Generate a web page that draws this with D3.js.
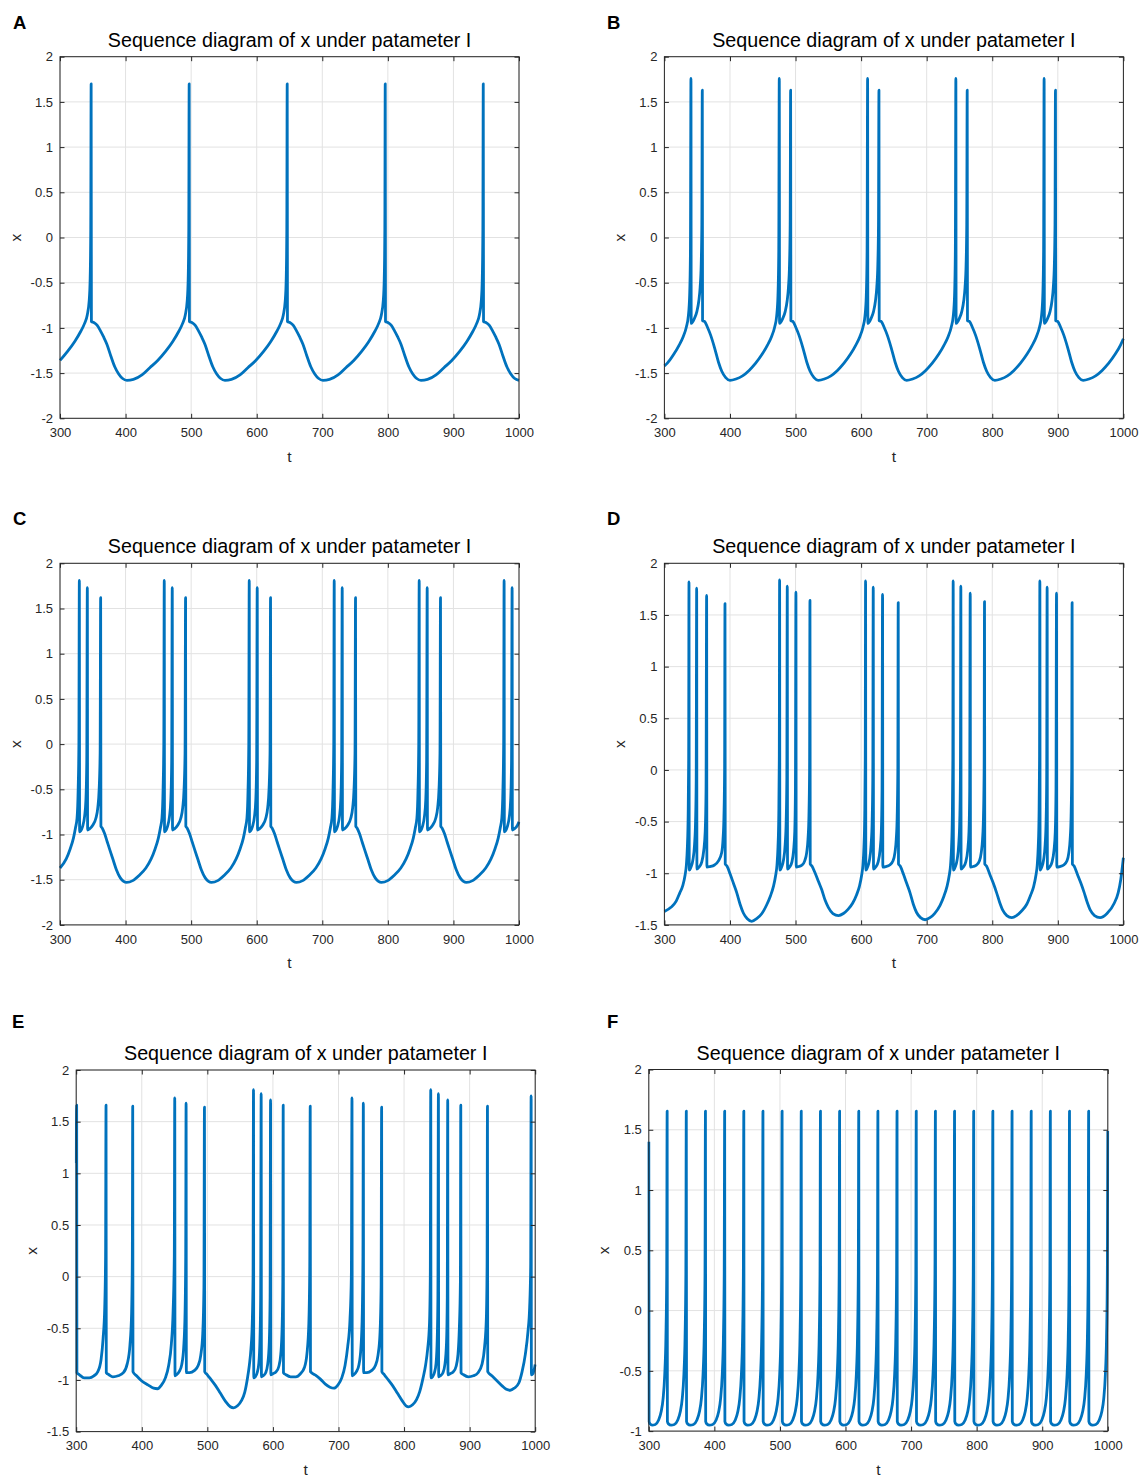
<!DOCTYPE html>
<html><head><meta charset="utf-8">
<script src="https://cdn.jsdelivr.net/npm/d3@7"></script>
<style>
body{margin:0;background:#fff}
text{font-family:"Liberation Sans",Arial,Helvetica,sans-serif}
</style>
</head><body>
<svg id="chart" width="1145" height="1477"></svg>
<script>
// ---------- DATA ----------
const titleText = "Sequence diagram of x under patameter I";
const panelLabels = ["A", "B", "C", "D", "E", "F"];
const xTickValues = [300, 400, 500, 600, 700, 800, 900, 1000];
const yTicksFull = [-2, -1.5, -1, -0.5, 0, 0.5, 1, 1.5, 2];
const yTicksD = [-1.5, -1, -0.5, 0, 0.5, 1, 1.5, 2];
const yTicksF = [-1, -0.5, 0, 0.5, 1, 1.5, 2];
const xAxisName = "t";
const yAxisName = "x";

// series: [t, x]
const seriesA = [
[300,-1.36],[311.5,-1.26],[322.5,-1.15],[331.5,-1.04],[337.5,-0.95],[341.5,-0.86],[344.5,-0.7],[346,-0.45],[346.9,0.1],[347.5,1.7],[347.9,-0.93],[351.5,-0.94],[356.5,-0.97],[361.5,-1.03],[366.5,-1.1],[371.5,-1.18],[377.5,-1.31],[383.5,-1.43],[389.5,-1.51],[395.5,-1.56],[402,-1.58],
[412,-1.57],[425,-1.52],[437,-1.44],[449,-1.36],[461,-1.26],[472,-1.15],[481,-1.04],[487,-0.95],[491,-0.86],[494,-0.7],[495.5,-0.45],[496.4,0.1],[497,1.7],[497.4,-0.93],[501,-0.94],[506,-0.97],[511,-1.03],[516,-1.1],[521,-1.18],[527,-1.31],[533,-1.43],[539,-1.51],[545,-1.56],[551.5,-1.58],
[561.5,-1.57],[574.5,-1.52],[586.5,-1.44],[598.5,-1.36],[610.5,-1.26],[621.5,-1.15],[630.5,-1.04],[636.5,-0.95],[640.5,-0.86],[643.5,-0.7],[645,-0.45],[645.9,0.1],[646.5,1.7],[646.9,-0.93],[650.5,-0.94],[655.5,-0.97],[660.5,-1.03],[665.5,-1.1],[670.5,-1.18],[676.5,-1.31],[682.5,-1.43],[688.5,-1.51],[694.5,-1.56],[701,-1.58],
[711,-1.57],[724,-1.52],[736,-1.44],[748,-1.36],[760,-1.26],[771,-1.15],[780,-1.04],[786,-0.95],[790,-0.86],[793,-0.7],[794.5,-0.45],[795.4,0.1],[796,1.7],[796.4,-0.93],[800,-0.94],[805,-0.97],[810,-1.03],[815,-1.1],[820,-1.18],[826,-1.31],[832,-1.43],[838,-1.51],[844,-1.56],[850.5,-1.58],
[860.5,-1.57],[873.5,-1.52],[885.5,-1.44],[897.5,-1.36],[909.5,-1.26],[920.5,-1.15],[929.5,-1.04],[935.5,-0.95],[939.5,-0.86],[942.5,-0.7],[944,-0.45],[944.9,0.1],[945.5,1.7],[945.9,-0.93],[949.5,-0.94],[954.5,-0.97],[959.5,-1.03],[964.5,-1.1],[969.5,-1.18],[975.5,-1.31],[981.5,-1.43],[987.5,-1.51],[993.5,-1.56],[1000,-1.58]
];

const seriesB = [
[300,-1.42],[304.5,-1.39],[314.5,-1.29],[322.5,-1.19],[328.5,-1.1],[333.5,-0.99],[336.5,-0.87],[338.5,-0.64],[339.7,-0.15],[340.5,1.76],[340.9,-0.95],[342.5,-0.94],[345.5,-0.9],[349.5,-0.82],[352.5,-0.7],[354.5,-0.55],[356.1,-0.3],[357.1,0.15],[357.8,1.63],[358.2,-0.92],[361.5,-0.93],[365.5,-0.99],[370.5,-1.08],[376.5,-1.22],[382.5,-1.38],[387.5,-1.48],[393.5,-1.55],[400,-1.58],
[409.2,-1.565],[419.2,-1.53],[429.2,-1.47],[439.2,-1.39],[449.2,-1.29],[457.2,-1.19],[463.2,-1.1],[468.2,-0.99],[471.2,-0.87],[473.2,-0.64],[474.4,-0.15],[475.2,1.76],[475.6,-0.95],[477.2,-0.94],[480.2,-0.9],[484.2,-0.82],[487.2,-0.7],[489.2,-0.55],[490.8,-0.3],[491.8,0.15],[492.5,1.63],[492.9,-0.92],[496.2,-0.93],[500.2,-0.99],[505.2,-1.08],[511.2,-1.22],[517.2,-1.38],[522.2,-1.48],[528.2,-1.55],[534.7,-1.58],
[543.9,-1.565],[553.9,-1.53],[563.9,-1.47],[573.9,-1.39],[583.9,-1.29],[591.9,-1.19],[597.9,-1.1],[602.9,-0.99],[605.9,-0.87],[607.9,-0.64],[609.1,-0.15],[609.9,1.76],[610.3,-0.95],[611.9,-0.94],[614.9,-0.9],[618.9,-0.82],[621.9,-0.7],[623.9,-0.55],[625.5,-0.3],[626.5,0.15],[627.2,1.63],[627.6,-0.92],[630.9,-0.93],[634.9,-0.99],[639.9,-1.08],[645.9,-1.22],[651.9,-1.38],[656.9,-1.48],[662.9,-1.55],[669.4,-1.58],
[678.5,-1.565],[688.5,-1.53],[698.5,-1.47],[708.5,-1.39],[718.5,-1.29],[726.5,-1.19],[732.5,-1.1],[737.5,-0.99],[740.5,-0.87],[742.5,-0.64],[743.7,-0.15],[744.5,1.76],[744.9,-0.95],[746.5,-0.94],[749.5,-0.9],[753.5,-0.82],[756.5,-0.7],[758.5,-0.55],[760.1,-0.3],[761.1,0.15],[761.8,1.63],[762.2,-0.92],[765.5,-0.93],[769.5,-0.99],[774.5,-1.08],[780.5,-1.22],[786.5,-1.38],[791.5,-1.48],[797.5,-1.55],[804,-1.58],
[813.1,-1.565],[823.1,-1.53],[833.1,-1.47],[843.1,-1.39],[853.1,-1.29],[861.1,-1.19],[867.1,-1.1],[872.1,-0.99],[875.1,-0.87],[877.1,-0.64],[878.3,-0.15],[879.1,1.76],[879.5,-0.95],[881.1,-0.94],[884.1,-0.9],[888.1,-0.82],[891.1,-0.7],[893.1,-0.55],[894.7,-0.3],[895.7,0.15],[896.4,1.63],[896.8,-0.92],[900.1,-0.93],[904.1,-0.99],[909.1,-1.08],[915.1,-1.22],[921.1,-1.38],[926.1,-1.48],[932.1,-1.55],[938.6,-1.58],
[947.6,-1.565],[957.6,-1.53],[967.6,-1.47],[977.6,-1.39],[987.6,-1.29],[995.6,-1.19],[1000,-1.12]
];

const seriesC = [
[300,-1.37],[309.5,-1.27],[315.5,-1.16],[320.5,-1.04],[323.5,-0.93],[326,-0.82],[327.7,-0.5],[328.8,0],[329.5,1.81],[329.9,-0.97],[331.5,-0.96],[334.5,-0.91],[337.5,-0.8],[339.5,-0.62],[340.8,-0.2],[341.7,1.73],[342.1,-0.95],[344.7,-0.94],[349.7,-0.9],[354.7,-0.82],[357.7,-0.7],[359.7,-0.5],[361.2,-0.1],[362,1.62],[362.4,-0.91],[364.5,-0.93],[368,-0.99],[372,-1.08],[376,-1.17],[381,-1.28],[386,-1.39],[392,-1.48],[401.5,-1.53],
[411,-1.51],[421,-1.45],[431,-1.37],[439,-1.27],[445,-1.16],[450,-1.04],[453,-0.93],[455.5,-0.82],[457.2,-0.5],[458.3,0],[459,1.81],[459.4,-0.97],[461,-0.96],[464,-0.91],[467,-0.8],[469,-0.62],[470.3,-0.2],[471.2,1.73],[471.6,-0.95],[474.2,-0.94],[479.2,-0.9],[484.2,-0.82],[487.2,-0.7],[489.2,-0.5],[490.7,-0.1],[491.5,1.62],[491.9,-0.91],[494,-0.93],[497.5,-0.99],[501.5,-1.08],[505.5,-1.17],[510.5,-1.28],[515.5,-1.39],[521.5,-1.48],[531,-1.53],
[540.6,-1.51],[550.6,-1.45],[560.6,-1.37],[568.6,-1.27],[574.6,-1.16],[579.6,-1.04],[582.6,-0.93],[585.1,-0.82],[586.8,-0.5],[587.9,0],[588.6,1.81],[589,-0.97],[590.6,-0.96],[593.6,-0.91],[596.6,-0.8],[598.6,-0.62],[599.9,-0.2],[600.8,1.73],[601.2,-0.95],[603.8,-0.94],[608.8,-0.9],[613.8,-0.82],[616.8,-0.7],[618.8,-0.5],[620.3,-0.1],[621.1,1.62],[621.5,-0.91],[623.6,-0.93],[627.1,-0.99],[631.1,-1.08],[635.1,-1.17],[640.1,-1.28],[645.1,-1.39],[651.1,-1.48],[660.6,-1.53],
[670.2,-1.51],[680.2,-1.45],[690.2,-1.37],[698.2,-1.27],[704.2,-1.16],[709.2,-1.04],[712.2,-0.93],[714.7,-0.82],[716.4,-0.5],[717.5,0],[718.2,1.81],[718.6,-0.97],[720.2,-0.96],[723.2,-0.91],[726.2,-0.8],[728.2,-0.62],[729.5,-0.2],[730.4,1.73],[730.8,-0.95],[733.4,-0.94],[738.4,-0.9],[743.4,-0.82],[746.4,-0.7],[748.4,-0.5],[749.9,-0.1],[750.7,1.62],[751.1,-0.91],[753.2,-0.93],[756.7,-0.99],[760.7,-1.08],[764.7,-1.17],[769.7,-1.28],[774.7,-1.39],[780.7,-1.48],[790.2,-1.53],
[799.8,-1.51],[809.8,-1.45],[819.8,-1.37],[827.8,-1.27],[833.8,-1.16],[838.8,-1.04],[841.8,-0.93],[844.3,-0.82],[846,-0.5],[847.1,0],[847.8,1.81],[848.2,-0.97],[849.8,-0.96],[852.8,-0.91],[855.8,-0.8],[857.8,-0.62],[859.1,-0.2],[860,1.73],[860.4,-0.95],[863,-0.94],[868,-0.9],[873,-0.82],[876,-0.7],[878,-0.5],[879.5,-0.1],[880.3,1.62],[880.7,-0.91],[882.8,-0.93],[886.3,-0.99],[890.3,-1.08],[894.3,-1.17],[899.3,-1.28],[904.3,-1.39],[910.3,-1.48],[919.8,-1.53],
[929.3,-1.51],[939.3,-1.45],[949.3,-1.37],[957.3,-1.27],[963.3,-1.16],[968.3,-1.04],[971.3,-0.93],[973.8,-0.82],[975.5,-0.5],[976.6,0],[977.3,1.81],[977.7,-0.97],[979.3,-0.96],[982.3,-0.91],[985.3,-0.8],[987.3,-0.62],[988.6,-0.2],[989.5,1.73],[989.9,-0.95],[992.5,-0.94],[997.5,-0.9],[1000,-0.86]
];

const seriesD = [
[300,-1.37],[310,-1.33],[318,-1.27],[323.5,-1.19],[328,-1.12],[331.5,-1.02],[333.5,-0.92],[335,-0.75],[336.2,-0.45],[337,0.1],[337.5,1.82],
[337.9,-0.97],[340.5,-0.94],[343.5,-0.87],[346,-0.72],[347.5,-0.5],[348.5,-0.1],[349.2,1.76],
[349.6,-0.96],[353,-0.94],[357,-0.89],[360,-0.78],[362.2,-0.6],[363.5,-0.2],[364.4,1.69],
[364.8,-0.94],[369.4,-0.935],[376.4,-0.92],[382.4,-0.88],[387.4,-0.8],[389.4,-0.67],[390.8,-0.45],[391.8,0],[392.4,1.61],
[392.8,-0.91],[395.4,-0.93],[400.4,-1.01],[405.4,-1.1],[410.4,-1.19],[415.4,-1.3],[420.4,-1.385],[426.4,-1.44],[433.1,-1.465],
[440.7,-1.44],[448.7,-1.39],[455.7,-1.31],[461.7,-1.22],[466.2,-1.13],[469.7,-1.02],[471.7,-0.92],[473.2,-0.75],[474.4,-0.45],[475.2,0.1],[475.7,1.84],
[476.1,-0.97],[478.7,-0.94],[481.7,-0.87],[484.2,-0.72],[485.7,-0.5],[486.7,-0.1],[487.4,1.78],
[487.8,-0.96],[491,-0.94],[494.5,-0.89],[497,-0.78],[498.8,-0.6],[499.8,-0.2],[500.6,1.72],
[501,-0.94],[505,-0.935],[510,-0.92],[514,-0.88],[517,-0.8],[519,-0.67],[520.4,-0.45],[521.4,0],[522,1.64],
[522.4,-0.91],[525,-0.93],[530,-1.0],[535,-1.08],[540,-1.16],[545,-1.26],[550,-1.33],[557,-1.39],[565.6,-1.41],
[573,-1.39],[580,-1.35],[587,-1.29],[593,-1.21],[597.3,-1.13],[600.8,-1.02],[602.8,-0.92],[604.3,-0.75],[605.5,-0.45],[606.3,0.1],[606.8,1.83],
[607.2,-0.97],[609.8,-0.94],[612.8,-0.87],[615.3,-0.72],[616.8,-0.5],[617.8,-0.1],[618.5,1.77],
[618.9,-0.96],[622.3,-0.94],[626,-0.89],[628.8,-0.78],[630.8,-0.6],[631.9,-0.2],[632.7,1.7],
[633.1,-0.94],[637.7,-0.935],[643.7,-0.92],[648.7,-0.88],[651.6,-0.8],[653.6,-0.67],[655,-0.45],[656,0],[656.6,1.62],
[657,-0.91],[659.6,-0.93],[664.6,-1.01],[669.6,-1.1],[674.6,-1.19],[679.6,-1.3],[684.6,-1.38],[690.6,-1.43],[697.7,-1.45],
[705,-1.43],[712,-1.39],[720.4,-1.31],[726.4,-1.22],[730.9,-1.13],[734.4,-1.02],[736.4,-0.92],[737.9,-0.75],[739.1,-0.45],[739.9,0.1],[740.4,1.83],
[740.8,-0.97],[743.4,-0.94],[746.4,-0.87],[748.9,-0.72],[750.4,-0.5],[751.4,-0.1],[752.1,1.78],
[752.5,-0.96],[755.9,-0.94],[759.6,-0.89],[762.5,-0.78],[764.5,-0.6],[765.6,-0.2],[766.4,1.71],
[766.8,-0.94],[771,-0.935],[776,-0.92],[780.5,-0.88],[783.2,-0.8],[785.2,-0.67],[786.6,-0.45],[787.6,0],[788.2,1.63],
[788.6,-0.91],[791.2,-0.93],[796.2,-1.01],[801.2,-1.09],[806.2,-1.18],[811.2,-1.28],[816.2,-1.36],[822.2,-1.41],[829.8,-1.43],
[837,-1.41],[844,-1.37],[852.6,-1.3],[858.6,-1.21],[863.1,-1.13],[866.6,-1.02],[868.6,-0.92],[870.1,-0.75],[871.3,-0.45],[872.1,0.1],[872.6,1.83],
[873,-0.97],[875.5,-0.94],[878.3,-0.87],[880.7,-0.72],[882.1,-0.5],[883,-0.1],[883.7,1.77],
[884.1,-0.96],[887.5,-0.94],[891.2,-0.89],[894.1,-0.78],[896.1,-0.6],[897.2,-0.2],[898,1.71],
[898.4,-0.94],[903,-0.935],[909,-0.92],[914,-0.88],[916.8,-0.8],[918.8,-0.67],[920.2,-0.45],[921.2,0],[921.8,1.62],
[922.2,-0.91],[924.8,-0.93],[929.8,-1.01],[934.8,-1.09],[939.8,-1.18],[944.8,-1.28],[949.8,-1.36],[956,-1.41],[964.4,-1.43],
[975,-1.39],[986,-1.29],[992,-1.19],[996,-1.06],[1000,-0.85]
];

const seriesE = [
[300,1.1],[300.7,1.66],[301.1,-0.93],[305,-0.95],[312,-0.98],[320,-0.98],[327,-0.96],[333,-0.92],[338,-0.8],[341,-0.6],[343.5,-0.3],[344.8,0.2],[345.5,1.66],
[345.9,-0.93],[350,-0.95],[356,-0.97],[364,-0.96],[372,-0.93],[378,-0.84],[382,-0.66],[384.5,-0.35],[385.6,0.2],[386.2,1.65],
[386.6,-0.92],[392,-0.96],[400,-1.01],[410,-1.05],[418,-1.08],[424,-1.085],[430,-1.05],[436,-0.98],[441,-0.86],[445,-0.66],[447.7,-0.35],[449.6,0.2],[450.3,1.73],
[450.7,-0.96],[453,-0.95],[457,-0.92],[461,-0.85],[464,-0.68],[466,-0.35],[467,0.2],[467.6,1.68],
[468,-0.93],[473,-0.93],[480,-0.91],[486,-0.86],[490,-0.76],[493,-0.55],[494.8,-0.1],[495.6,1.64],
[496,-0.92],[500,-0.95],[506,-1.0],[512,-1.05],[520,-1.13],[528,-1.21],[535,-1.26],[540,-1.27],[546,-1.25],[552,-1.2],[557,-1.12],[561,-0.99],[564,-0.86],[566.5,-0.7],[568.5,-0.45],[569.7,0],[570.4,1.81],
[570.8,-0.98],[573,-0.97],[576,-0.93],[578.5,-0.84],[580.3,-0.6],[581.3,-0.2],[582.1,1.77],
[582.5,-0.97],[585,-0.96],[589,-0.93],[592,-0.85],[594.5,-0.63],[595.7,-0.2],[596.4,1.71],
[596.8,-0.95],[600,-0.94],[605,-0.92],[609,-0.87],[612,-0.75],[614,-0.5],[615.1,-0.05],[615.7,1.66],
[616.1,-0.93],[620,-0.95],[627,-0.97],[635,-0.97],[642,-0.94],[648,-0.88],[652,-0.74],[654.8,-0.45],[656.2,0.1],[656.9,1.65],
[657.3,-0.92],[664,-0.95],[672,-0.99],[680,-1.04],[687,-1.07],[693,-1.08],[699,-1.05],[705,-0.98],[710,-0.86],[714,-0.68],[717.5,-0.42],[719.6,0],[720.6,1.73],
[721,-0.96],[723.3,-0.95],[727.3,-0.92],[731.3,-0.85],[734.3,-0.68],[736.3,-0.35],[737.3,0.2],[737.9,1.68],
[738.3,-0.93],[743.3,-0.93],[750.3,-0.91],[756.3,-0.86],[760.3,-0.76],[763.3,-0.55],[765,-0.1],[765.8,1.64],
[766.2,-0.92],[770,-0.95],[776,-1.0],[782,-1.05],[790,-1.13],[797,-1.2],[803,-1.25],[807,-1.26],[813,-1.24],[819,-1.19],[824,-1.11],[829,-0.98],[833,-0.85],[836,-0.7],[838.8,-0.45],[840,0],[840.7,1.81],
[841.1,-0.98],[843.3,-0.97],[846.3,-0.93],[848.8,-0.84],[850.6,-0.6],[851.6,-0.2],[852.4,1.77],
[852.8,-0.97],[855.3,-0.96],[859.3,-0.93],[862.3,-0.85],[864.8,-0.63],[865.9,-0.2],[866.6,1.71],
[867,-0.95],[870.3,-0.94],[875.3,-0.92],[879.3,-0.87],[882.3,-0.75],[884.3,-0.5],[885.9,-0.05],[886.5,1.66],
[886.9,-0.93],[890.8,-0.95],[897.8,-0.97],[905.8,-0.96],[912.8,-0.93],[918.8,-0.85],[922.8,-0.68],[925.5,-0.4],[926.6,0.1],[927.2,1.65],
[927.6,-0.92],[934,-0.96],[942,-1.01],[950,-1.06],[956,-1.09],[962,-1.1],[968,-1.08],[975,-1.03],[980,-0.92],[985,-0.75],[989,-0.53],[991.5,-0.3],[993.1,0.1],[993.8,1.75],
[994.2,-0.95],[996.5,-0.94],[1000,-0.85]
];

const seriesF = [
[300,1.4],[300.4,-0.92],[302,-0.94],[305,-0.95],[310,-0.945],[314.8,-0.91],[318.8,-0.84],[321.8,-0.73],[324.3,-0.53],[326.1,-0.22],[327.3,0.3],[328,1.655],
[328.35,-0.92],[330,-0.94],[334,-0.95],[339,-0.945],[344,-0.91],[348,-0.84],[351,-0.73],[353.5,-0.53],[355.3,-0.22],[356.5,0.3],[357.2,1.655],
[357.55,-0.92],[359.2,-0.94],[363.2,-0.95],[368.2,-0.945],[373.2,-0.91],[377.2,-0.84],[380.2,-0.73],[382.7,-0.53],[384.5,-0.22],[385.7,0.3],[386.4,1.655],
[386.75,-0.92],[388.4,-0.94],[392.4,-0.95],[397.4,-0.945],[402.5,-0.91],[406.5,-0.84],[409.5,-0.73],[412,-0.53],[413.8,-0.22],[415,0.3],[415.7,1.655],
[416.05,-0.92],[417.7,-0.94],[421.7,-0.95],[426.7,-0.945],[431.7,-0.91],[435.7,-0.84],[438.7,-0.73],[441.2,-0.53],[443,-0.22],[444.2,0.3],[444.9,1.655],
[445.25,-0.92],[446.9,-0.94],[450.9,-0.95],[455.9,-0.945],[460.9,-0.91],[464.9,-0.84],[467.9,-0.73],[470.4,-0.53],[472.2,-0.22],[473.4,0.3],[474.1,1.655],
[474.45,-0.92],[476.1,-0.94],[480.1,-0.95],[485.1,-0.945],[490.1,-0.91],[494.1,-0.84],[497.1,-0.73],[499.6,-0.53],[501.4,-0.22],[502.6,0.3],[503.3,1.655],
[503.65,-0.92],[505.3,-0.94],[509.3,-0.95],[514.3,-0.945],[519.3,-0.91],[523.3,-0.84],[526.3,-0.73],[528.8,-0.53],[530.6,-0.22],[531.8,0.3],[532.5,1.655],
[532.85,-0.92],[534.5,-0.94],[538.5,-0.95],[543.5,-0.945],[548.6,-0.91],[552.6,-0.84],[555.6,-0.73],[558.1,-0.53],[559.9,-0.22],[561.1,0.3],[561.8,1.655],
[562.15,-0.92],[563.8,-0.94],[567.8,-0.95],[572.8,-0.945],[577.8,-0.91],[581.8,-0.84],[584.8,-0.73],[587.3,-0.53],[589.1,-0.22],[590.3,0.3],[591,1.655],
[591.35,-0.92],[593,-0.94],[597,-0.95],[602,-0.945],[607,-0.91],[611,-0.84],[614,-0.73],[616.5,-0.53],[618.3,-0.22],[619.5,0.3],[620.2,1.655],
[620.55,-0.92],[622.2,-0.94],[626.2,-0.95],[631.2,-0.945],[636.2,-0.91],[640.2,-0.84],[643.2,-0.73],[645.7,-0.53],[647.5,-0.22],[648.7,0.3],[649.4,1.655],
[649.75,-0.92],[651.4,-0.94],[655.4,-0.95],[660.4,-0.945],[665.4,-0.91],[669.4,-0.84],[672.4,-0.73],[674.9,-0.53],[676.7,-0.22],[677.9,0.3],[678.6,1.655],
[678.95,-0.92],[680.6,-0.94],[684.6,-0.95],[689.6,-0.945],[694.7,-0.91],[698.7,-0.84],[701.7,-0.73],[704.2,-0.53],[706,-0.22],[707.2,0.3],[707.9,1.655],
[708.25,-0.92],[709.9,-0.94],[713.9,-0.95],[718.9,-0.945],[723.9,-0.91],[727.9,-0.84],[730.9,-0.73],[733.4,-0.53],[735.2,-0.22],[736.4,0.3],[737.1,1.655],
[737.45,-0.92],[739.1,-0.94],[743.1,-0.95],[748.1,-0.945],[753.1,-0.91],[757.1,-0.84],[760.1,-0.73],[762.6,-0.53],[764.4,-0.22],[765.6,0.3],[766.3,1.655],
[766.65,-0.92],[768.3,-0.94],[772.3,-0.95],[777.3,-0.945],[782.3,-0.91],[786.3,-0.84],[789.3,-0.73],[791.8,-0.53],[793.6,-0.22],[794.8,0.3],[795.5,1.655],
[795.85,-0.92],[797.5,-0.94],[801.5,-0.95],[806.5,-0.945],[811.5,-0.91],[815.5,-0.84],[818.5,-0.73],[821,-0.53],[822.8,-0.22],[824,0.3],[824.7,1.655],
[825.05,-0.92],[826.7,-0.94],[830.7,-0.95],[835.7,-0.945],[840.8,-0.91],[844.8,-0.84],[847.8,-0.73],[850.3,-0.53],[852.1,-0.22],[853.3,0.3],[854,1.655],
[854.35,-0.92],[856,-0.94],[860,-0.95],[865,-0.945],[870,-0.91],[874,-0.84],[877,-0.73],[879.5,-0.53],[881.3,-0.22],[882.5,0.3],[883.2,1.655],
[883.55,-0.92],[885.2,-0.94],[889.2,-0.95],[894.2,-0.945],[899.2,-0.91],[903.2,-0.84],[906.2,-0.73],[908.7,-0.53],[910.5,-0.22],[911.7,0.3],[912.4,1.655],
[912.75,-0.92],[914.4,-0.94],[918.4,-0.95],[923.4,-0.945],[928.4,-0.91],[932.4,-0.84],[935.4,-0.73],[937.9,-0.53],[939.7,-0.22],[940.9,0.3],[941.6,1.655],
[941.95,-0.92],[943.6,-0.94],[947.6,-0.95],[952.6,-0.945],[957.6,-0.91],[961.6,-0.84],[964.6,-0.73],[967.1,-0.53],[968.9,-0.22],[970.1,0.3],[970.8,1.655],
[971.15,-0.92],[972.8,-0.94],[976.8,-0.95],[981.8,-0.945],[986.8,-0.91],[990.8,-0.84],[993.8,-0.73],[996.3,-0.53],[998.1,-0.22],[999.3,0.3],[1000,1.49]
];

// ---------- LAYOUT ----------
const W = 459, H = 361.6;
const panels = [
  {label: panelLabels[0], l: 60,    t: 56.7,   lx: 13,  ly: 28.5,  series: seriesA, yDom: [-2, 2],   yTicks: yTicksFull},
  {label: panelLabels[1], l: 664.4, t: 56.7,   lx: 607, ly: 28.5,  series: seriesB, yDom: [-2, 2],   yTicks: yTicksFull},
  {label: panelLabels[2], l: 60,    t: 563.3,  lx: 13,  ly: 525,   series: seriesC, yDom: [-2, 2],   yTicks: yTicksFull},
  {label: panelLabels[3], l: 664.4, t: 563.3,  lx: 607, ly: 525,   series: seriesD, yDom: [-1.5, 2], yTicks: yTicksD},
  {label: panelLabels[4], l: 76.2,  t: 1070,   lx: 12,  ly: 1028,  series: seriesE, yDom: [-1.5, 2], yTicks: yTicksD},
  {label: panelLabels[5], l: 648.8, t: 1069.5, lx: 607, ly: 1028,  series: seriesF, yDom: [-1, 2],   yTicks: yTicksF}
];

const svg = d3.select("#chart");
svg.append("rect").attr("width", 1145).attr("height", 1477).attr("fill", "#fff");

const AX = "#262626";
const GRID = "#e2e2e2";
const LINE = "#0072BD";

panels.forEach((p, i) => {
  const g = svg.append("g").attr("transform", `translate(${p.l},${p.t})`);
  const x = d3.scaleLinear().domain([300, 1000]).range([0, W]);
  const y = d3.scaleLinear().domain(p.yDom).range([H, 0]);

  // grid
  g.append("g").selectAll("line").data(xTickValues).join("line")
    .attr("x1", d => x(d)).attr("x2", d => x(d)).attr("y1", 0).attr("y2", H)
    .attr("stroke", GRID).attr("stroke-width", 1);
  g.append("g").selectAll("line").data(p.yTicks).join("line")
    .attr("y1", d => y(d)).attr("y2", d => y(d)).attr("x1", 0).attr("x2", W)
    .attr("stroke", GRID).attr("stroke-width", 1);

  // data line
  const clipId = "clip" + i;
  g.append("clipPath").attr("id", clipId).append("rect")
    .attr("x", -1.5).attr("y", -1).attr("width", W + 3).attr("height", H + 2);
  g.append("path").datum(p.series)
    .attr("clip-path", `url(#${clipId})`)
    .attr("d", d3.line().x(d => x(d[0])).y(d => y(d[1])).curve(d3.curveMonotoneX))
    .attr("fill", "none").attr("stroke", LINE).attr("stroke-width", 2.8)
    .attr("stroke-linejoin", "round").attr("stroke-linecap", "butt");

  // axes (ticks inside, MATLAB style box)
  const fmt = d => String(d);
  const bottom = g.append("g").attr("transform", `translate(0,${H})`)
    .call(d3.axisBottom(x).tickValues(xTickValues).tickSizeInner(-4.5).tickSizeOuter(0).tickPadding(9.5).tickFormat(fmt));
  const top = g.append("g")
    .call(d3.axisTop(x).tickValues(xTickValues).tickSizeInner(-4.5).tickSizeOuter(0).tickFormat(""));
  const left = g.append("g")
    .call(d3.axisLeft(y).tickValues(p.yTicks).tickSizeInner(-4.5).tickSizeOuter(0).tickPadding(7).tickFormat(fmt));
  const right = g.append("g").attr("transform", `translate(${W},0)`)
    .call(d3.axisRight(y).tickValues(p.yTicks).tickSizeInner(-4.5).tickSizeOuter(0).tickFormat(""));
  [bottom, top, left, right].forEach(a => {
    a.select(".domain").remove();
    a.selectAll(".tick line").attr("stroke", AX).attr("stroke-width", 1);
    a.selectAll(".tick text").attr("fill", AX).style("font-size", "13px")
      .style("font-family", '"Liberation Sans", Arial, Helvetica, sans-serif');
  });
  g.append("rect").attr("width", W).attr("height", H)
    .attr("fill", "none").attr("stroke", AX).attr("stroke-width", 1);

  // axis names
  g.append("text").attr("x", W / 2).attr("y", H + 43.4)
    .attr("text-anchor", "middle").attr("fill", AX).style("font-size", "15.5px").text(xAxisName);
  g.append("text").attr("transform", `translate(-39.5,${H / 2}) rotate(-90)`)
    .attr("text-anchor", "middle").attr("fill", AX).style("font-size", "15.5px").text(yAxisName);

  // title
  g.append("text").attr("x", W / 2).attr("y", -10)
    .attr("text-anchor", "middle").attr("fill", "#000").style("font-size", "19.7px").text(titleText);

  // panel letter
  svg.append("text").attr("x", p.lx).attr("y", p.ly)
    .attr("fill", "#000").style("font-size", "18.5px").style("font-weight", "bold").text(p.label);
});
</script>
</body></html>
